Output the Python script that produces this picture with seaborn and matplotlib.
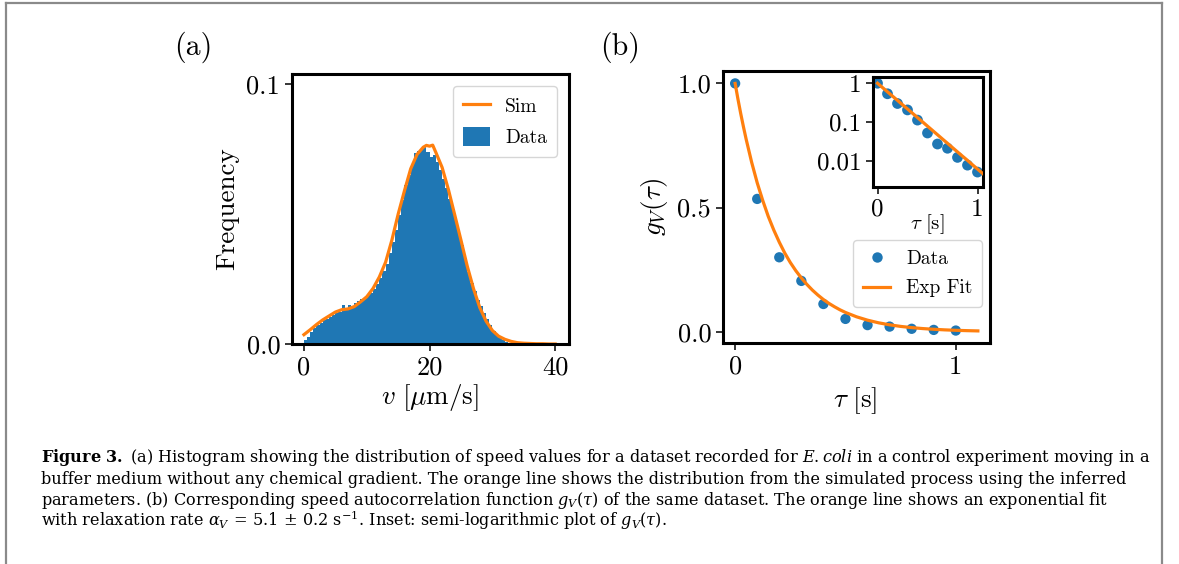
import numpy as np
import pandas as pd
import seaborn as sns
import matplotlib
matplotlib.use("Agg")
import matplotlib.pyplot as plt
from matplotlib.lines import Line2D
from matplotlib.patches import Patch

# ---------------- data ----------------
# (a) histogram of speeds: bins of 0.5 um/s starting at 0
hist_bin_width = 0.5
hist_heights = [
    0.0015, 0.0028, 0.0045, 0.0062, 0.0072, 0.0082, 0.0092, 0.0097,
    0.0103, 0.0110, 0.0118, 0.0125, 0.0152, 0.0138, 0.0152, 0.0148,
    0.0158, 0.0165, 0.0175, 0.0180, 0.0188, 0.0198, 0.0212, 0.0232,
    0.0255, 0.0280, 0.0310, 0.0350, 0.0392, 0.0440, 0.0495, 0.0555,
    0.0612, 0.0650, 0.0690, 0.0735, 0.0745, 0.0752, 0.0760, 0.0740,
    0.0722, 0.0728, 0.0700, 0.0672, 0.0635, 0.0600, 0.0560, 0.0520,
    0.0470, 0.0420, 0.0380, 0.0330, 0.0278, 0.0235, 0.0205, 0.0170,
    0.0145, 0.0118, 0.0095, 0.0072, 0.0050, 0.0034, 0.0024, 0.0015,
    0.0009, 0.0005, 0.0003, 0.0001,
]
# simulated distribution (orange line)
sim_v = [0, 1, 2, 3, 4, 5, 6, 7, 8, 9, 10, 11, 12, 13, 14, 15, 16, 17, 18,
         19, 19.5, 20, 20.5, 21, 22, 23, 24, 25, 26, 27, 28, 29, 30, 31, 32,
         33, 34, 35, 36, 37, 38, 39, 40]
sim_freq = [0.0036, 0.0055, 0.0075, 0.0093, 0.0108, 0.0123, 0.0132, 0.0135,
            0.0144, 0.0162, 0.0182, 0.0214, 0.0258, 0.0315, 0.0400, 0.0500,
            0.0590, 0.0675, 0.0730, 0.0758, 0.0765, 0.0762, 0.0766, 0.0738,
            0.0680, 0.0595, 0.0498, 0.0400, 0.0300, 0.0213, 0.0140, 0.0088,
            0.0052, 0.0030, 0.0018, 0.0010, 0.0005, 0.0003, 0.0002, 0.0001,
            0.0001, 0.0000, 0.0000]

# (b) speed autocorrelation
tau_data = [0.0, 0.1, 0.2, 0.3, 0.4, 0.5, 0.6, 0.7, 0.8, 0.9, 1.0]
g_data = [1.0, 0.535, 0.300, 0.205, 0.112, 0.052, 0.027, 0.021, 0.0122,
          0.0077, 0.0051]
# exponential fit curve (alpha_V = 5.1 1/s)
tau_fit = [0.0, 0.0125, 0.025, 0.0375, 0.05, 0.075, 0.10, 0.125, 0.15, 0.175,
           0.20, 0.225, 0.25, 0.275, 0.30, 0.325, 0.35, 0.375, 0.40, 0.425,
           0.45, 0.475, 0.50, 0.55, 0.60, 0.65, 0.70, 0.75, 0.80, 0.85, 0.90,
           0.95, 1.00, 1.05, 1.10]
g_fit = [1.0, 0.938, 0.880, 0.826, 0.775, 0.682, 0.600, 0.529, 0.465, 0.410,
         0.361, 0.317, 0.279, 0.246, 0.217, 0.191, 0.168, 0.148, 0.130, 0.1145,
         0.101, 0.0887, 0.078, 0.0605, 0.0469, 0.0363, 0.0282, 0.0218, 0.0169,
         0.0131, 0.0102, 0.00786, 0.00610, 0.00473, 0.00366]

xticks_a = [0, 20, 40]
yticks_a = [0.0, 0.1]
xticks_b = [0, 1]
yticks_b = [0.0, 0.5, 1.0]
inset_yticks = [1, 0.1, 0.01]
inset_yticklabels = ["1", "0.1", "0.01"]

caption_lines = [
    r"$\mathbf{Figure\ 3.}$ (a) Histogram showing the distribution of speed values for a dataset recorded for $\mathit{E{.}coli}$ in a control experiment moving in a",
    r"buffer medium without any chemical gradient. The orange line shows the distribution from the simulated process using the inferred",
    r"parameters. (b) Corresponding speed autocorrelation function $g_V(\tau)$ of the same dataset. The orange line shows an exponential fit",
    r"with relaxation rate $\alpha_V\, =\, 5.1\, \pm\, 0.2\ \mathrm{s}^{-1}$. Inset: semi-logarithmic plot of $g_V(\tau)$.",
]

# ---------------- style ----------------
BLUE = "#1f77b4"
ORANGE = "#ff7f0e"
plt.rcParams.update({
    "font.family": ["cmr10", "DejaVu Serif"],
    "mathtext.fontset": "cm",
    "axes.unicode_minus": False,
    "axes.formatter.use_mathtext": True,
    "axes.linewidth": 2.2,
    "xtick.major.width": 1.1,
    "ytick.major.width": 1.1,
    "xtick.major.size": 5,
    "ytick.major.size": 5,
})

fig = plt.figure(figsize=(11.79, 5.64), dpi=100)
W, H = 1179, 564

def rect(l, t, r, b):
    return [l / W, 1 - b / H, (r - l) / W, (b - t) / H]

# ---------------- panel (a) ----------------
ax1 = fig.add_axes(rect(292, 74, 569, 344))
centers = (np.arange(len(hist_heights)) + 0.5) * hist_bin_width
dfh = pd.DataFrame({"v": centers, "w": hist_heights})
sns.histplot(data=dfh, x="v", weights="w", binwidth=hist_bin_width,
             binrange=(0, len(hist_heights) * hist_bin_width), element="step",
             fill=True, color=BLUE, alpha=1, linewidth=0, ax=ax1)
dfs = pd.DataFrame({"v": sim_v, "f": sim_freq})
sns.lineplot(data=dfs, x="v", y="f", color=ORANGE, linewidth=2.3, ax=ax1)
ax1.set_xlim(-1.9, 42.2)
ax1.set_ylim(0, 0.104)
ax1.set_xticks(xticks_a)
ax1.set_xticklabels([str(t) for t in xticks_a])
ax1.set_yticks(yticks_a)
ax1.set_yticklabels(["%.1f" % t for t in yticks_a])
ax1.tick_params(labelsize=19)
ax1.set_xlabel(r"$v\ [\mu\mathrm{m/s}]$", fontsize=19.5)
ax1.set_ylabel("Frequency", fontsize=19.5)
ax1.xaxis.set_label_coords(0.498, -0.141)
ax1.yaxis.set_label_coords(-0.19, 0.5)
h_sim = Line2D([], [], color=ORANGE, lw=2.3)
h_dat = Patch(facecolor=BLUE, edgecolor="none")
ax1.legend([h_sim, h_dat], ["Sim", "Data"], loc="upper right",
           bbox_to_anchor=(0.957, 0.956), borderaxespad=0, fontsize=14,
           handlelength=1.4, handleheight=1.1, borderpad=0.5, labelspacing=0.6)
fig.text(193 / W, 1 - 47 / H, "(a)", fontsize=21.5, ha="center", va="center")

# ---------------- panel (b) ----------------
ax2 = fig.add_axes(rect(723, 71, 990, 343))
dfd = pd.DataFrame({"tau": tau_data, "g": g_data})
dff = pd.DataFrame({"tau": tau_fit, "g": g_fit})
sns.scatterplot(data=dfd, x="tau", y="g", color=BLUE, s=55, edgecolor="none",
                ax=ax2, zorder=2)
sns.lineplot(data=dff, x="tau", y="g", color=ORANGE, linewidth=2.3, ax=ax2,
             zorder=3)
ax2.set_xlim(-0.055, 1.155)
ax2.set_ylim(-0.045, 1.05)
ax2.set_xticks(xticks_b)
ax2.set_xticklabels([str(t) for t in xticks_b])
ax2.set_yticks(yticks_b)
ax2.set_yticklabels(["%.1f" % t for t in yticks_b])
ax2.tick_params(labelsize=19)
ax2.set_xlabel(r"$\tau\ [\mathrm{s}]$", fontsize=19.5)
ax2.set_ylabel(r"$g_V(\tau)$", fontsize=19.5)
ax2.xaxis.set_label_coords(0.494, -0.154)
ax2.yaxis.set_label_coords(-0.2, 0.5)
h_d = Line2D([], [], color=BLUE, marker="o", ls="none", markersize=7.5,
             markeredgewidth=0)
h_f = Line2D([], [], color=ORANGE, lw=2.3)
ax2.legend([h_d, h_f], ["Data", "Exp Fit"], loc="lower right",
           bbox_to_anchor=(0.970, 0.132), borderaxespad=0, fontsize=14,
           handlelength=1.4, borderpad=0.5, labelspacing=0.6)
fig.text(620 / W, 1 - 47 / H, "(b)", fontsize=21.5, ha="center", va="center")

# inset
ax3 = fig.add_axes(rect(873, 77, 983, 187))
sns.scatterplot(data=dfd, x="tau", y="g", color=BLUE, s=60, edgecolor="none",
                ax=ax3, zorder=2)
sns.lineplot(data=dff, x="tau", y="g", color=ORANGE, linewidth=2.3, ax=ax3,
             zorder=3)
ax3.set_yscale("log")
ax3.set_xlim(-0.045, 1.055)
ax3.set_ylim(0.0021, 1.45)
ax3.set_xticks(xticks_b)
ax3.set_xticklabels([str(t) for t in xticks_b])
ax3.set_yticks(inset_yticks)
ax3.set_yticklabels(inset_yticklabels)
ax3.yaxis.set_minor_locator(matplotlib.ticker.NullLocator())
ax3.tick_params(labelsize=18)
ax3.set_xlabel(r"$\tau\ [\mathrm{s}]$", fontsize=15)
ax3.set_ylabel("")
ax3.xaxis.set_label_coords(0.49, -0.225)

# ---------------- caption ----------------
baselines = [462, 483.5, 505, 526.5]
cap_texts = []
for txt, yb in zip(caption_lines, baselines):
    t = fig.text(41 / W, 1 - yb / H, txt, fontsize=12,
                 family=["DejaVu Serif"], math_fontfamily="dejavuserif",
                 ha="left", va="baseline")
    cap_texts.append(t)
# scale caption font so the first line spans the same width as in the source
fig.canvas.draw()
r = fig.canvas.get_renderer()
w0 = cap_texts[0].get_window_extent(r).width
for t in cap_texts:
    t.set_fontsize(12 * 1110.0 / w0)

# ---------------- frame ----------------
gray = "#8a8a8a"
fig.add_artist(Line2D([6 / W, 6 / W], [0, 1 - 3 / H], color=gray, lw=1.6))
fig.add_artist(Line2D([6 / W, 1162 / W], [1 - 3 / H, 1 - 3 / H], color=gray, lw=1.6))
fig.add_artist(Line2D([1162 / W, 1162 / W], [0, 1 - 3 / H], color=gray, lw=1.6))

fig.savefig("out.png", dpi=100)
